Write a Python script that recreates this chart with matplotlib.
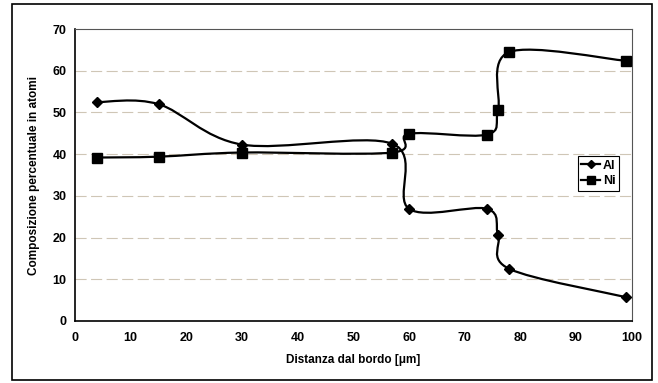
import numpy as np
import matplotlib.pyplot as plt
from matplotlib.path import Path
from matplotlib.patches import PathPatch, Rectangle
from matplotlib.lines import Line2D

plt.rcParams['font.family'] = ['Liberation Sans', 'DejaVu Sans']
plt.rcParams['font.weight'] = 'bold'

# dati
distanza = [4, 15, 30, 57, 60, 74, 76, 78, 99]
al = [52.5, 52.0, 42.3, 42.5, 26.9, 26.9, 20.5, 12.5, 5.7]
ni = [39.2, 39.4, 40.4, 40.4, 44.9, 44.7, 50.6, 64.5, 62.4]


def smooth_path(x, y):
    # curva levigata tipo Excel (Bezier con tangenti Catmull-Rom)
    p = np.column_stack([x, y]).astype(float)
    ext = np.vstack([p[0], p, p[-1]])
    verts = [p[0]]
    codes = [Path.MOVETO]
    for i in range(len(p) - 1):
        p0, p1, p2, p3 = ext[i], ext[i + 1], ext[i + 2], ext[i + 3]
        verts += [p1 + (p2 - p0) / 6, p2 - (p3 - p1) / 6, p2]
        codes += [Path.CURVE4] * 3
    return Path(verts, codes)


fig = plt.figure(figsize=(6.58, 3.83), dpi=100)
ax = fig.add_axes([0.114, 0.162, 0.846, 0.762])

# cornice esterna
fig.patches.append(Rectangle((0.018, 0.008), 0.973, 0.982, transform=fig.transFigure,
                             fill=False, edgecolor='black', linewidth=1.2))

for g in range(10, 70, 10):
    ax.axhline(g, color='#cfc6b6', linewidth=0.8, linestyle=(0, (10, 4)), zorder=0)

for ys in (al, ni):
    ax.add_patch(PathPatch(smooth_path(distanza, ys), facecolor='none',
                           edgecolor='black', linewidth=1.6, zorder=2))

ax.plot(distanza, al, linestyle='none', marker='D', markersize=5, color='black', zorder=3)
ax.plot(distanza, ni, linestyle='none', marker='s', markersize=6.5, color='black', zorder=3)

ax.set_xlim(0, 100)
ax.set_ylim(0, 70)
ax.set_xticks(range(0, 101, 10))
ax.set_yticks(range(0, 71, 10))
ax.tick_params(labelsize=9, length=0)
ax.tick_params(axis='x', pad=8)
ax.tick_params(axis='y', pad=6)
for s in ('left', 'bottom'):
    ax.spines[s].set_linewidth(1.2)
for s in ('top', 'right'):
    ax.spines[s].set_linewidth(0.8)
    ax.spines[s].set_color('#555555')

ax.set_xlabel('Distanza dal bordo [μm]', fontsize=8.5, fontweight='bold', labelpad=7)
ax.set_ylabel('Composizione percentuale in atomi', fontsize=8.5, fontweight='bold', labelpad=9)

handles = [Line2D([], [], color='black', lw=1.6, marker='D', markersize=4),
           Line2D([], [], color='black', lw=1.6, marker='s', markersize=5.5)]
leg = ax.legend(handles, ['Al', 'Ni'], loc='lower left', bbox_to_anchor=(0.903, 0.445),
                fontsize=9, handlelength=1.5, handletextpad=0.2, borderpad=0.3,
                labelspacing=0.3, fancybox=False, edgecolor='black', framealpha=1,
                borderaxespad=0)
leg.get_frame().set_linewidth(0.8)

fig.savefig('out.png', dpi=100)
